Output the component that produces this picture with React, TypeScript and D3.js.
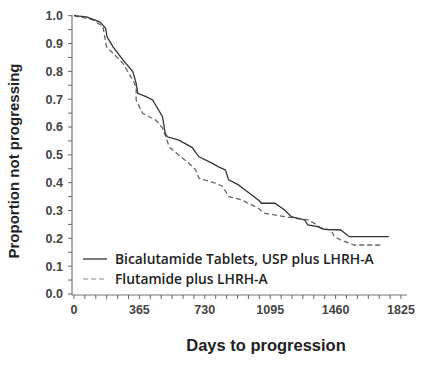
import * as d3 from 'd3';

const W = 427;
const H = 365;

// Bicalutamide Tablets, USP plus LHRH-A (days, proportion not progressing)
const bicaDays = [0, 70, 144, 177, 184, 217, 273, 328, 347, 356, 402, 439, 494, 509, 521, 586, 660, 697, 770, 807, 845, 863, 918, 955, 1029, 1047, 1121, 1176, 1213, 1287, 1305, 1360, 1397, 1489, 1536, 1757];
const bicaProp = [1.0, 0.996, 0.978, 0.955, 0.925, 0.889, 0.841, 0.799, 0.757, 0.721, 0.709, 0.697, 0.637, 0.577, 0.565, 0.553, 0.526, 0.493, 0.47, 0.457, 0.446, 0.41, 0.392, 0.374, 0.338, 0.326, 0.326, 0.302, 0.278, 0.266, 0.248, 0.242, 0.232, 0.23, 0.206, 0.206];

// Flutamide plus LHRH-A
const fluDays = [0, 107, 162, 181, 227, 273, 328, 347, 347, 383, 457, 494, 513, 531, 568, 641, 679, 697, 789, 826, 853, 863, 936, 1029, 1066, 1176, 1232, 1305, 1342, 1379, 1434, 1453, 1489, 1563, 1711];
const fluProp = [1.0, 0.985, 0.96, 0.889, 0.859, 0.829, 0.769, 0.745, 0.697, 0.649, 0.625, 0.596, 0.565, 0.529, 0.508, 0.47, 0.446, 0.416, 0.398, 0.388, 0.362, 0.35, 0.338, 0.308, 0.29, 0.278, 0.272, 0.266, 0.254, 0.236, 0.23, 0.206, 0.194, 0.176, 0.176];

const xTicks = [0, 365, 730, 1095, 1460, 1825];
const yTicks = [0, 0.1, 0.2, 0.3, 0.4, 0.5, 0.6, 0.7, 0.8, 0.9, 1.0];
const legendLabels = ['Bicalutamide Tablets, USP plus LHRH-A', 'Flutamide plus LHRH-A'];

const AXIS_X = 72;
const AXIS_Y = 295;

export default function App() {
  const x = d3.scaleLinear().domain([0, 1825]).range([74, 401]);
  const y = d3.scaleLinear().domain([0, 1]).range([294, 15.7]);

  const line = d3
    .line<[number, number]>()
    .x((d) => x(d[0]))
    .y((d) => y(d[1]))
    .curve(d3.curveLinear);

  const bica = bicaDays.map((d, i) => [d, bicaProp[i]] as [number, number]);
  const flu = fluDays.map((d, i) => [d, fluProp[i]] as [number, number]);

  const minorX = d3.range(0, 1825 + 1, 365 / 6);
  const minorY = d3.range(0, 1.0001, 0.05);

  const tickFont = '"Liberation Sans", Arial, sans-serif';

  return (
    <svg width={W} height={H} style={{ position: 'absolute', left: 0, top: 0, background: '#fff' }}>
      {/* axes */}
      <line x1={AXIS_X} x2={AXIS_X} y1={15} y2={AXIS_Y} stroke="#777" strokeWidth={1.2} />
      <line x1={AXIS_X} x2={407} y1={AXIS_Y} y2={AXIS_Y} stroke="#777" strokeWidth={1.2} />

      {minorY.map((v, i) => (
        <line key={'yt' + i} x1={AXIS_X - 4} x2={AXIS_X} y1={y(v)} y2={y(v)} stroke="#666" strokeWidth={1} />
      ))}
      {minorX.map((v, i) => (
        <line key={'xt' + i} x1={x(v)} x2={x(v)} y1={AXIS_Y} y2={AXIS_Y + 4} stroke="#666" strokeWidth={1} />
      ))}

      {yTicks.map((v) => (
        <text
          key={'yl' + v}
          x={63}
          y={y(v)}
          dy="0.35em"
          textAnchor="end"
          fontFamily={tickFont}
          fontWeight="bold"
          fontSize={12.5}
          fill="#444"
        >
          {v.toFixed(1)}
        </text>
      ))}
      {xTicks.map((v) => (
        <text
          key={'xl' + v}
          x={x(v)}
          y={310}
          dy="0.35em"
          textAnchor="middle"
          fontFamily={tickFont}
          fontWeight="bold"
          fontSize={12.5}
          fill="#444"
        >
          {v}
        </text>
      ))}

      <text
        transform="translate(19,161) rotate(-90)"
        textAnchor="middle"
        fontFamily={tickFont}
        fontWeight="bold"
        fontSize={15}
        fill="#222"
      >
        Proportion not progressing
      </text>
      <text
        x={266}
        y={351}
        textAnchor="middle"
        fontFamily={tickFont}
        fontWeight="bold"
        fontSize={16.5}
        fill="#222"
      >
        Days to progression
      </text>

      {/* curves */}
      <path d={line(flu) ?? ''} fill="none" stroke="#666" strokeWidth={1.3} strokeDasharray="5,3" />
      <path d={line(bica) ?? ''} fill="none" stroke="#333" strokeWidth={1.3} />

      {/* legend */}
      <line x1={83} x2={107} y1={259} y2={259} stroke="#333" strokeWidth={1.3} />
      <line x1={83} x2={107} y1={279} y2={279} stroke="#888" strokeWidth={1.2} strokeDasharray="5,3" />
      {legendLabels.map((t, i) => (
        <text
          key={t}
          x={115}
          y={259 + i * 20}
          dy="0.35em"
          fontFamily='"Open Sans", sans-serif'
          fontWeight={600}
          fontSize={13.8}
          fill="#222"
        >
          {t}
        </text>
      ))}
    </svg>
  );
}
